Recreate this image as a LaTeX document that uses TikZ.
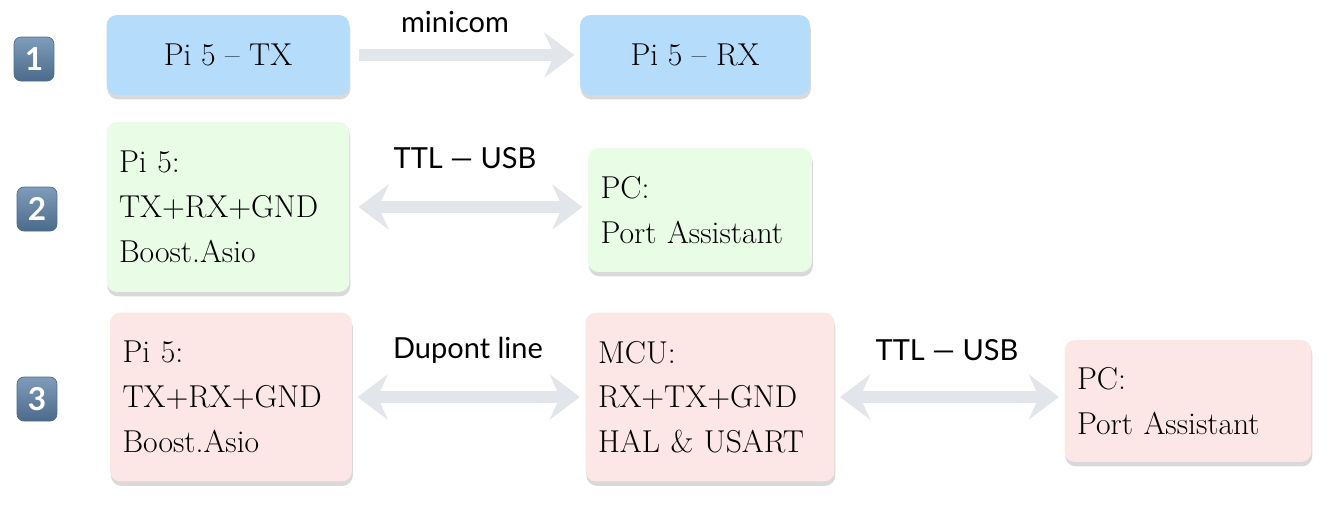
\documentclass[tikz,border=0pt]{standalone}
\usepackage{fontspec}
\setsansfont{Lato}
\usetikzlibrary{shadows,arrows.meta}
\definecolor{boxblue}{HTML}{B5DCFB}
\definecolor{boxgreen}{HTML}{E8FCE6}
\definecolor{boxred}{HTML}{FCE6E6}
\definecolor{linkgray}{HTML}{E2E5E9}
\definecolor{badgetop}{HTML}{7F9CBA}
\definecolor{badgebot}{HTML}{4B6B8C}
\begin{document}
\begin{tikzpicture}[x=0.02cm,y=-0.02cm,
  stage/.style={rounded corners=6pt, drop shadow={shadow xshift=0.5pt,shadow yshift=-2.5pt,opacity=0.3}, inner sep=0pt, font=\fontsize{18}{25.5}\selectfont},
  badge/.style={top color=badgetop, bottom color=badgebot, draw=badgebot, rounded corners=4pt, minimum width=0.8cm, minimum height=0.88cm, text=white, font=\sffamily\bfseries\fontsize{18}{20}\selectfont},
  link/.style={linkgray, line width=0.24cm, -{Stealth[length=0.6cm,width=0.9cm,inset=0.2cm]}},
  both/.style={link, {Stealth[length=0.6cm,width=0.9cm,inset=0.2cm]}-{Stealth[length=0.6cm,width=0.9cm,inset=0.2cm]}},
  tag/.style={font=\sffamily\fontsize{16.5}{20}\selectfont}]
  \useasboundingbox (0,0) rectangle (1332,508);
  %Badges
  \node[badge] (n1) at (34,59) {1};
  \node[badge] (n2) at (37,209) {2};
  \node[badge] (n3) at (37,399) {3};

  %Row 1
  \node[stage, fill=boxblue, minimum width=4.86cm, minimum height=1.6cm] (tx) at (228,55) {Pi 5 -- TX};
  \node[stage, fill=boxblue, minimum width=4.6cm, minimum height=1.6cm] (rx) at (695,55) {Pi 5 -- RX};
  \draw[link] ([xshift=5pt]tx.east) -- ([xshift=-3pt]rx.west);
  \node[tag] (l1) at (455,22) {minicom};

  %Row 2
  \node[stage, fill=boxgreen, minimum width=4.86cm, minimum height=3.4cm, text width=4.36cm, align=left] (pi2) at (228,207) {Pi 5:\\TX+RX+GND\\Boost.Asio};
  \node[stage, fill=boxgreen, minimum width=4.48cm, minimum height=2.48cm, text width=3.98cm, align=left] (pc2) at (700,210) {PC:\\Port Assistant};
  \draw[both] ([xshift=5pt]pi2.east) -- ([xshift=-3pt]pi2.east -| pc2.west);
  \node[tag] (l2) at (465,158) {TTL --- USB};

  %Row 3
  \node[stage, fill=boxred, minimum width=4.84cm, minimum height=3.38cm, text width=4.34cm, align=left] (pi3) at (231,397) {Pi 5:\\TX+RX+GND\\Boost.Asio};
  \node[stage, fill=boxred, minimum width=4.98cm, minimum height=3.38cm, text width=4.48cm, align=left] (mcu) at (710,397) {MCU:\\RX+TX+GND\\HAL \& USART};
  \node[stage, fill=boxred, minimum width=4.94cm, minimum height=2.44cm, text width=4.44cm, align=left] (pc3) at (1188,401) {PC:\\Port Assistant};
  \draw[both] ([xshift=3pt]pi3.east) -- ([xshift=-3pt]mcu.west);
  \draw[both] ([xshift=3pt]mcu.east) -- ([xshift=-3pt]mcu.east -| pc3.west);
  \node[tag] (l3) at (468,350) {Dupont line};
  \node[tag] (l4) at (947,350) {TTL --- USB};
\end{tikzpicture}
\end{document}
